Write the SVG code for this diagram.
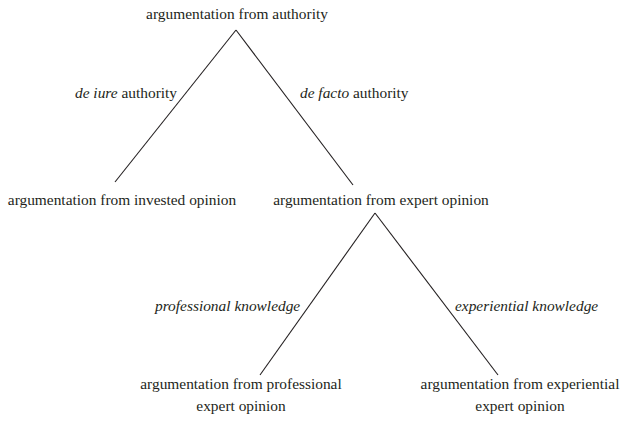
<svg xmlns="http://www.w3.org/2000/svg" width="621" height="424" viewBox="0 0 621 424">
<style>
text{font-family:"Liberation Serif","Times New Roman",serif;font-size:15.4px;fill:#231f20}
.m{text-anchor:middle}
.i{font-style:italic}
.c line{stroke:#231f20;stroke-width:1.1;fill:none}
</style>
<rect width="621" height="424" fill="#fff"/>
<g class="c" id="connectors">
<line x1="236" y1="30" x2="115" y2="182"/>
<line x1="236" y1="30" x2="353" y2="185"/>
<line x1="375" y1="213" x2="260" y2="375"/>
<line x1="375" y1="213" x2="498" y2="375"/>
</g>
<g id="n-authority"><text class="m" x="237" y="19">argumentation from authority</text></g>
<g id="n-invested"><text class="m" x="122" y="205">argumentation from invested opinion</text></g>
<g id="n-expert"><text class="m" x="381" y="205">argumentation from expert opinion</text></g>
<g id="n-professional"><text class="m" x="241" y="389">argumentation from professional</text><text class="m" x="241" y="411">expert opinion</text></g>
<g id="n-experiential"><text class="m" x="520" y="389">argumentation from experiential</text><text class="m" x="520" y="411">expert opinion</text></g>
<g id="labels">
<text x="75" y="98"><tspan class="i">de iure</tspan> authority</text>
<text x="300" y="98"><tspan class="i">de facto</tspan> authority</text>
<text class="i" x="155" y="311">professional knowledge</text>
<text class="i" x="455" y="311">experiential knowledge</text>
</g>
</svg>
